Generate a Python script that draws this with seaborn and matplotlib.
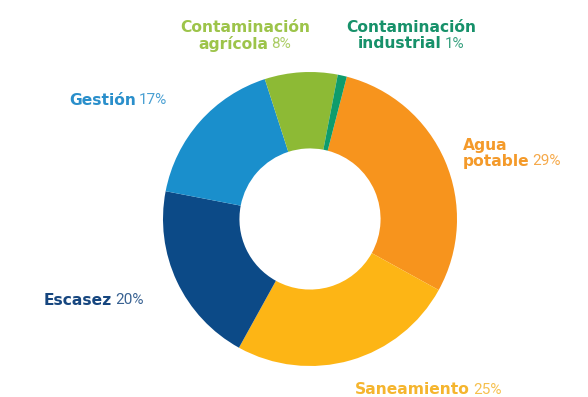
import matplotlib
matplotlib.use("Agg")
import matplotlib.pyplot as plt
import seaborn as sns

# Shares of each problem area (percent), clockwise from the top
categories = ["Agua potable", "Saneamiento", "Escasez", "Gestión",
              "Contaminación agrícola", "Contaminación industrial"]
shares = [29, 25, 20, 17, 8, 1]
percent_labels = ["29%", "25%", "20%", "17%", "8%", "1%"]

wedge_colors = ["#F7941D", "#FDB515", "#0C4A87", "#1A8FCC", "#8DBA35", "#0E9C6C"]
text_colors = ["#F49A2A", "#F5B52E", "#16467F", "#2A8FCB", "#9DC44A", "#17916A"]

sns.set_theme(style="white")
plt.rcParams["font.family"] = ["DejaVu Sans"]

W, H = 588, 397
fig = plt.figure(figsize=(W / 100, H / 100), dpi=100)
fig.patch.set_facecolor("white")

# donut centre and outer radius in pixels
cx, cy, r = 310, 219, 147
ax = fig.add_axes([(cx - r) / W, (H - cy - r) / H, 2 * r / W, 2 * r / H])
ax.pie(shares, colors=wedge_colors, startangle=75.5, counterclock=False,
       radius=1.0,
       wedgeprops=dict(width=0.52, edgecolor="none", linewidth=0))
ax.set_xlim(-1, 1)
ax.set_ylim(-1, 1)
ax.set_aspect("equal")
ax.axis("off")

fig.canvas.draw()
renderer = fig.canvas.get_renderer()

# name: heavy, wide face; percent: thin face
STYLES = {
    "name": dict(family="DejaVu Sans", fontweight="bold", fontsize=11.2),
    "pct": dict(family="Roboto", fontweight="normal", fontsize=11),
}


def seg_width(txt, style):
    t = fig.text(0, 0, txt, **STYLES[style])
    w = t.get_window_extent(renderer).width
    t.remove()
    return w


def place_line(parts, x, y, color, align="left"):
    """parts: list of (text, style); x,y in pixels from top-left; y is vertical centre."""
    gap = 3
    widths = [seg_width(p, s) for p, s in parts]
    total = sum(widths) + gap * (len(parts) - 1)
    x0 = x - total / 2 if align == "center" else x
    for (p, s), wd in zip(parts, widths):
        kw = dict(STYLES[s])
        fig.text(x0 / W, 1 - y / H, p, color=color, ha="left", va="center_baseline",
                 alpha=0.85 if s == "pct" else 1.0, **kw)
        x0 += wd + gap


N, P = "name", "pct"
# Contaminación agrícola
place_line([("Contaminación", N)], 245, 26, text_colors[4], "center")
place_line([("agrícola", N), (percent_labels[4], P)], 245, 42, text_colors[4], "center")
# Contaminación industrial
place_line([("Contaminación", N)], 411, 26, text_colors[5], "center")
place_line([("industrial", N), (percent_labels[5], P)], 411, 42, text_colors[5], "center")
# Gestión
place_line([("Gestión", N), (percent_labels[3], P)], 69, 99, text_colors[3])
# Agua potable
place_line([("Agua", N)], 463, 144, text_colors[0])
place_line([("potable", N), (percent_labels[0], P)], 463, 160, text_colors[0])
# Escasez
place_line([("Escasez", N), (percent_labels[2], P)], 44, 299, text_colors[2])
# Saneamiento
place_line([("Saneamiento", N), (percent_labels[1], P)], 355, 388, text_colors[1])

fig.savefig("out.png", dpi=100, facecolor="white")
